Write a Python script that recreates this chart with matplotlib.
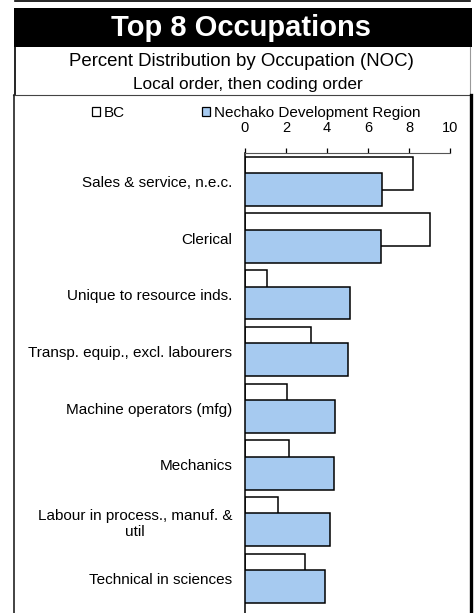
import numpy as np
import matplotlib
matplotlib.use("Agg")
import matplotlib.pyplot as plt
from matplotlib.patches import Rectangle, Patch

plt.rcParams['font.family'] = ['Liberation Sans', 'DejaVu Sans']

# data
occupations = ["Sales & service, n.e.c.", "Clerical", "Unique to resource inds.",
               "Transp. equip., excl. labourers", "Machine operators (mfg)", "Mechanics",
               "Labour in process., manuf. &\nutil", "Technical in sciences"]
bc_pct = [8.2, 9.0, 1.05, 3.2, 2.05, 2.15, 1.6, 2.95]
nechako_pct = [6.7, 6.65, 5.1, 5.0, 4.4, 4.35, 4.15, 3.9]
x_ticks = [0, 2, 4, 6, 8, 10]

W, H = 476, 613
fig = plt.figure(figsize=(W / 100, H / 100), dpi=100)

# frame / header drawn in pixel coordinates
bg = fig.add_axes([0, 0, 1, 1], zorder=0)
bg.set_xlim(0, W)
bg.set_ylim(H, 0)
bg.axis('off')
bg.plot([15, 470], [1, 1], color='black', lw=1.2)
bg.add_patch(Rectangle((14, 8), 458, 39, facecolor='black', edgecolor='none'))
bg.plot([15, 15], [47, 95], color='black', lw=1.2)
bg.plot([470, 470], [47, 95], color='#999999', lw=0.8)
bg.plot([13, 470], [95, 95], color='#444444', lw=0.8)
bg.plot([13.5, 13.5], [95, H], color='#222222', lw=1.2)
bg.plot([471, 471], [95, H], color='black', lw=2.4)

bg.text(241, 28, "Top 8 Occupations", color='white', fontsize=21, fontweight='bold',
        ha='center', va='center')
bg.text(241.5, 62, "Percent Distribution by Occupation (NOC)", fontsize=13.4,
        ha='center', va='center')
bg.text(247.5, 85, "Local order, then coding order", fontsize=12.4,
        ha='center', va='center')

# the bar chart itself
ax = fig.add_axes([245 / W, 0, 205 / W, 1 - 153 / H], zorder=1)
ax.patch.set_alpha(0)
y = np.arange(len(occupations))
h = 0.58
ax.barh(y - 0.145, bc_pct, height=h, color='white', edgecolor='black', linewidth=1.1,
        label='BC', zorder=2)
ax.barh(y + 0.145, nechako_pct, height=h, color='#A6CAF0', edgecolor='black', linewidth=1.1,
        label='Nechako Development Region', zorder=3)

ax.set_xlim(0, 10)
ax.set_ylim(7.61, -0.5)
ax.set_xticks(x_ticks)
ax.xaxis.tick_top()
ax.tick_params(axis='x', direction='out', length=3.3, width=0.9, pad=10, labelsize=10.5)
ax.set_yticks(y)
ax.set_yticklabels(occupations, fontsize=11, multialignment='center')
ax.tick_params(axis='y', length=0, pad=9)
for s in ['right', 'bottom']:
    ax.spines[s].set_visible(False)
ax.spines['top'].set_color('#555555')
ax.spines['left'].set_color('black')
ax.spines['left'].set_linewidth(1.1)

handles = [Patch(facecolor='white', edgecolor='black', linewidth=0.9),
           Patch(facecolor='#A6CAF0', edgecolor='black', linewidth=0.9)]
fig.legend(handles, ['BC', 'Nechako Development Region'], ncol=2, frameon=False,
           loc='center left', bbox_to_anchor=(92 / W, 1 - 113 / H), fontsize=11,
           handlelength=0.55, handleheight=0.55, handletextpad=0.2, columnspacing=5.07,
           borderpad=0, borderaxespad=0)

fig.savefig("out.png", dpi=100)
